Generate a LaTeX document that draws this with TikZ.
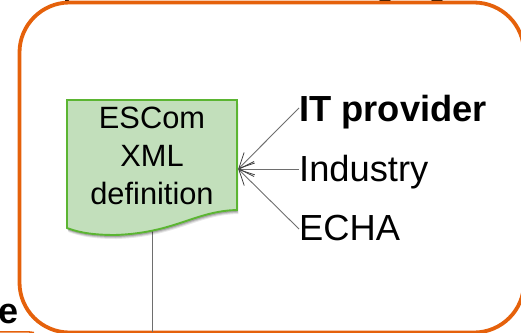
\documentclass[tikz,border=0pt]{standalone}
\usepackage{fontspec}
\setmainfont{Liberation Sans}
\usetikzlibrary{arrows.meta}
\definecolor{frameorange}{HTML}{E5610B}
\definecolor{docfill}{HTML}{C2DFBB}
\definecolor{docline}{HTML}{5BB532}
\definecolor{linkgray}{HTML}{6E6E6E}
\tikzset{
  x=1pt,y=-1pt,
  frame/.style={draw=frameorange,line width=3.8pt,rounded corners=50pt},
  link/.style={draw=linkgray,line width=0.9pt},
  arrowlink/.style={link,{Straight Barb[length=15pt,width=15pt,line width=0.8pt,color=black!75]}-},
  sidelabel/.style={anchor=west,inner sep=0pt,font=\fontsize{36.3}{36}\selectfont,text depth=0pt},
  doctext/.style={anchor=north,inner sep=0pt,align=center,font=\fontsize{30.8}{38}\selectfont},
  docbox/.style={minimum width=171pt,minimum height=138pt,inner sep=0pt}
}
\newcommand{\docoutline}{(67,100) -- (237,100) -- (237,210) .. controls (195,211) and (175,233) .. (115,235) .. controls (95,235) and (80,233) .. (67,228) -- cycle}
\begin{document}
\begin{tikzpicture}
\useasboundingbox (0,0) rectangle (521,332);
\clip (0,0) rectangle (521,332);
% text cut by the top edge
\fill[black] (67,0) ellipse [x radius=2pt,y radius=2pt];
\fill[black] (385,-2) ellipse [x radius=7pt,y radius=4pt];
\fill[black] (437,-2) ellipse [x radius=7pt,y radius=4pt];
% outer frame
\path[frame] (19.5,2.5) rectangle (524,332.5);
\draw[frameorange,line width=1.6pt] (-2,331.8) -- (28,331.8) -- (34,332.6);
% document node, line drawn below it
\node[docbox] (doc) at (152.5,169) {};
\coordinate (bottomend) at (152.5,332);
\draw[link] (doc.center) -- (bottomend);
\foreach \d/\o in {4/0.09,3/0.13,2/0.18}{
  \begin{scope}[shift={(\d*0.35,\d)}]
    \fill[black,opacity=\o] \docoutline;
  \end{scope}
}
\path[fill=docfill,draw=docline,line width=1.9pt] \docoutline;
\node[doctext] (doclabel) at (152,107) {ESCom\\XML\\definition};
% contributors
\node[sidelabel,text height=27pt,font=\fontsize{36.3}{36}\selectfont\bfseries] (it) at (299,108) {IT provider};
\node[sidelabel,text height=24pt] (industry) at (299,169) {Industry};
\node[sidelabel,text height=22pt] (echa) at (299,229) {ECHA};
\draw[arrowlink] (doc.east) -- (it.west);
\draw[arrowlink] (doc.east) -- (industry.west);
\draw[arrowlink] (doc.east) -- (echa.west);
% text cut by the left edge
\node[anchor=base west,inner sep=0pt,font=\fontsize{36}{36}\selectfont\bfseries] (cutlabel) at (-2,323) {e};
\end{tikzpicture}
\end{document}
